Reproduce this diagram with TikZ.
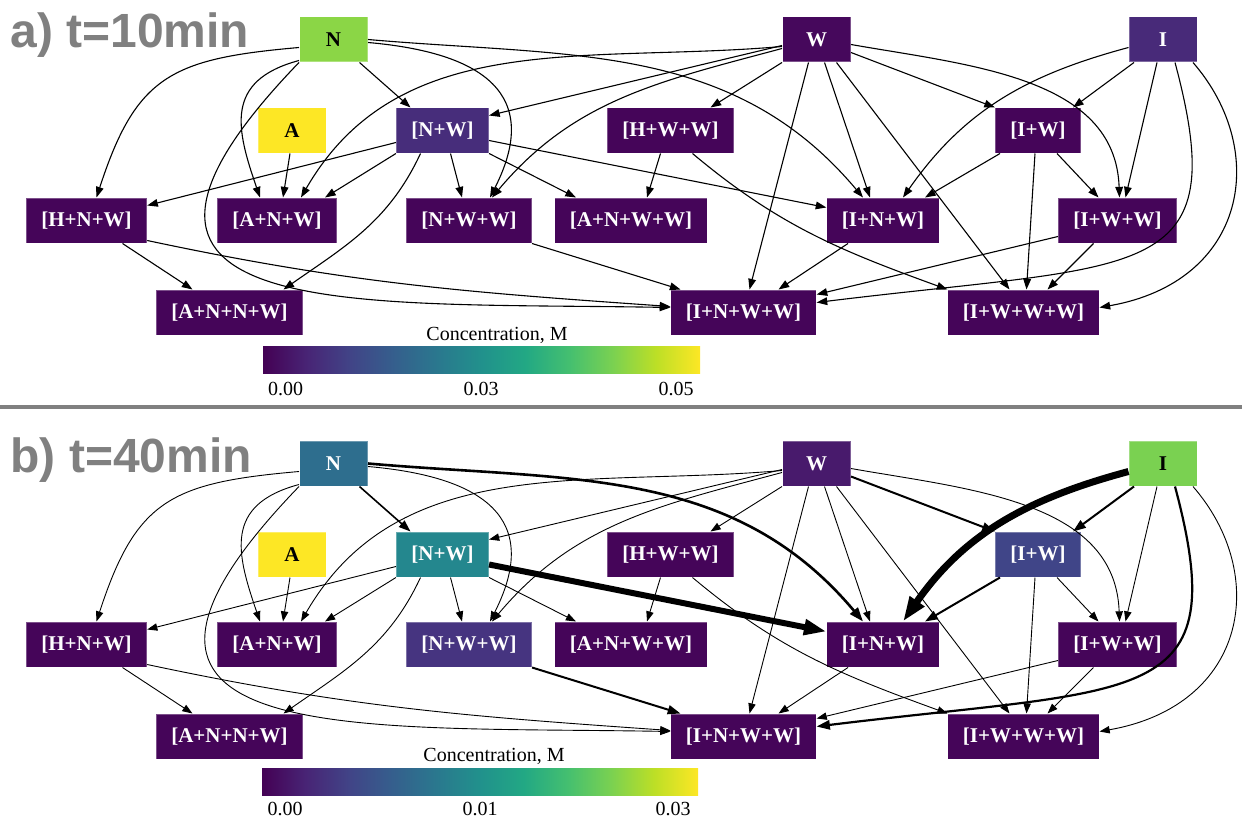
\documentclass[tikz,border=0pt]{standalone}
\usepackage{fontspec}
\setmainfont{Liberation Serif}
\newfontfamily\panelfont{Liberation Sans}
\usetikzlibrary{arrows.meta}

% viridis stops
\definecolor{vir0}{HTML}{440154}
\definecolor{vir1}{HTML}{482475}
\definecolor{vir2}{HTML}{414487}
\definecolor{vir3}{HTML}{355F8D}
\definecolor{vir4}{HTML}{2A788E}
\definecolor{vir5}{HTML}{21918C}
\definecolor{vir6}{HTML}{22A884}
\definecolor{vir7}{HTML}{44BF70}
\definecolor{vir8}{HTML}{7AD151}
\definecolor{vir9}{HTML}{BDDF26}
\definecolor{vir10}{HTML}{FDE725}
\definecolor{deep}{HTML}{450559}
% species at t=10min
\definecolor{Na}{HTML}{8BD646}
\definecolor{Wa}{HTML}{46085C}
\definecolor{Ia}{HTML}{482A79}
\definecolor{NWa}{HTML}{472D7B}
% species at t=40min
\definecolor{Nb}{HTML}{2E6E8E}
\definecolor{Wb}{HTML}{481A6C}
\definecolor{Ib}{HTML}{7AD151}
\definecolor{NWb}{HTML}{24878E}
\definecolor{IWb}{HTML}{404588}
\definecolor{NWWb}{HTML}{463480}

\pgfdeclarehorizontalshading{viridis}{100bp}{color(0bp)=(vir0); color(25bp)=(vir0);
  color(30bp)=(vir1); color(35bp)=(vir2); color(40bp)=(vir3); color(45bp)=(vir4);
  color(50bp)=(vir5); color(55bp)=(vir6); color(60bp)=(vir7); color(65bp)=(vir8);
  color(70bp)=(vir9); color(75bp)=(vir10); color(100bp)=(vir10)}

\tikzset{flux/.style={line width=#1}}

\begin{document}
\begin{tikzpicture}[x=1bp,y=1bp,->,>={Triangle[length=8bp 2.4,width=6bp 1.5]},
                    line width=1.1bp,font=\fontsize{21bp}{24bp}\selectfont\bfseries]
  \tikzstyle{sp}=[rectangle,fill=deep,text=white,minimum height=45bp,minimum width=68bp,
                  inner xsep=15bp,draw=white,draw opacity=0.3,line width=1bp]
  \tikzstyle{dk}=[text=black]
  \tikzstyle{lbl}=[font=\fontsize{20bp}{24bp}\selectfont,anchor=base,inner sep=1bp]
  \tikzstyle{panel}=[font=\panelfont\bfseries\fontsize{48bp}{52bp}\selectfont,
                     text=gray,anchor=base west,inner sep=0pt]

  \useasboundingbox (0,0) rectangle (1242,-818);

  % ---------- a) t=10min ----------
  \node[panel] (tita) at (10,-48) {a) t=10min};

  \node[sp,fill=Na,dk]    (Na)    at (333.5,-39.5)  {N};
  \node[sp,fill=Wa]       (Wa)    at (816.5,-39.5)  {W};
  \node[sp,fill=Ia]       (Ia)    at (1163,-39.5)   {I};
  \node[sp,fill=vir10,dk] (Aa)    at (292,-130.5)   {A};
  \node[sp,fill=NWa]      (NWa)   at (442.5,-130.5) {[N+W]};
  \node[sp]               (HWWa)  at (670.5,-130.5) {[H+W+W]};
  \node[sp]               (IWa)   at (1038,-130.5)  {[I+W]};
  \node[sp]               (HNWa)  at (86.5,-220.5)  {[H+N+W]};
  \node[sp]               (ANWa)  at (277,-220.5)   {[A+N+W]};
  \node[sp]               (NWWa)  at (469,-220.5)   {[N+W+W]};
  \node[sp]               (ANWWa) at (631,-220.5)   {[A+N+W+W]};
  \node[sp]               (INWa)  at (883,-220.5)   {[I+N+W]};
  \node[sp]               (IWWa)  at (1117.5,-220.5) {[I+W+W]};
  \node[sp]               (ANNWa) at (229.5,-312.5) {[A+N+N+W]};
  \node[sp]               (INWWa) at (743.5,-312.5) {[I+N+W+W]};
  \node[sp]               (IWWWa) at (1023.5,-312.5) {[I+W+W+W]};

  \path ([yshift=-8bp]Na.west)  edge[out=185,in=72,looseness=1.3] ([xshift=10bp]HNWa.north)
        ([yshift=2bp]Na.south west) edge[out=195,in=109,out distance=78bp,in distance=72bp] ([xshift=-17bp]ANWa.north)
        ([xshift=26bp]Na.south) edge                              ([xshift=-32bp]NWa.north)
        ([yshift=-3bp]Na.east)  edge[out=-5,in=63,looseness=1.5]  ([xshift=21bp]NWWa.north)
        (Na.east)               edge[out=-5,in=130]               ([xshift=-20bp]INWa.north)
        (Na.south west)         edge[out=226,in=179,out distance=365bp,in distance=320bp] ([yshift=5bp]INWWa.west);
  \path ([yshift=-6bp]Wa.west)  edge                     ([yshift=15bp]NWa.east)
        ([yshift=-7bp]Wa.west)  edge[out=185,in=60]      ([xshift=24bp]ANWa.north)
        ([yshift=-9bp]Wa.west)  edge[out=195,in=50]      ([xshift=23bp]NWWa.north)
        (Wa.south west)         edge                     ([xshift=40bp]HWWa.north)
        ([xshift=8bp]Wa.south)  edge                     ([xshift=-13bp]INWa.north)
        ([xshift=-8bp]Wa.south) edge                     ([xshift=6bp]INWWa.north)
        ([xshift=20bp]Wa.south) edge                     ([xshift=-14bp]IWWWa.north)
        ([yshift=-13bp]Wa.east) edge                     (IWa.north west)
        ([yshift=-5bp]Wa.east)  edge[out=-10,in=92]      ([xshift=2bp]IWWa.north);
  \path ([xshift=-29bp]Ia.south) edge                    ([xshift=35bp]IWa.north)
        ([yshift=-8bp]Ia.west)   edge[out=195,in=55]     ([xshift=20bp]INWa.north)
        ([xshift=-6bp]Ia.south)  edge                    ([xshift=8bp]IWWa.north)
        ([xshift=12bp]Ia.south)  edge[out=-75,in=7,out distance=230bp,in distance=330bp] ([yshift=10bp]INWWa.east)
        ([xshift=30bp]Ia.south)  edge[out=-49,in=10,out distance=117bp,in distance=150bp] ([yshift=5bp]IWWWa.east);
  \path ([xshift=-2bp]Aa.south)  edge                    ([xshift=6bp]ANWa.north);
  \path ([yshift=-12bp]NWa.west) edge                    ([yshift=15bp]HNWa.east)
        (NWa.south west)          edge                   ([xshift=48bp]ANWa.north)
        ([xshift=-22bp]NWa.south) edge[out=245,in=35]    ([xshift=54bp]ANNWa.north)
        ([xshift=8bp]NWa.south)   edge                   ([xshift=-7bp]NWWa.north)
        (NWa.south east)          edge                   ([xshift=-55bp]ANWWa.north)
        ([yshift=-10bp]NWa.east)  edge                   ([yshift=13bp]INWa.west);
  \path ([xshift=-10bp]HWWa.south) edge                  ([xshift=16bp]ANWWa.north)
        ([xshift=22bp]HWWa.south)  edge[out=-40,in=160]  (IWWWa.north west);
  \path ([xshift=-38bp]IWa.south) edge                   ([xshift=42bp]INWa.north)
        ([xshift=19bp]IWa.south)  edge                   ([xshift=-19bp]IWWa.north)
        ([xshift=-3bp]IWa.south)  edge                   ([xshift=3bp]IWWWa.north);
  \path ([xshift=36bp]HNWa.south) edge                   ([xshift=-37bp]ANNWa.north)
        ([yshift=-20bp]HNWa.east)  edge[out=-12,in=176]  ([yshift=6bp]INWWa.west);
  \path (NWWa.south east)          edge                  ([xshift=-63bp]INWWa.north);
  \path ([xshift=-35bp]INWa.south) edge                  ([xshift=35bp]INWWa.north);
  \path ([yshift=-16bp]IWWa.west)  edge                  ([yshift=18bp]INWWa.east)
        ([xshift=-24bp]IWWa.south) edge                  ([xshift=24bp]IWWWa.north);

  % colour scale
  \shade[shading=viridis] (263,-346) rectangle (700,-373);
  \node[lbl] (cbta) at (497,-340) {Concentration, M};
  \node[lbl] (ta0) at (285.5,-395) {0.00};
  \node[lbl] (ta1) at (481,-395)   {0.03};
  \node[lbl] (ta2) at (676,-395)   {0.05};

  \draw[-,line width=4bp,gray] (0,-406.5) -- (1242,-406.5);

  % ---------- b) t=40min ----------
  \begin{scope}[yshift=-424bp,line width=0.9bp]
  \node[panel] (titb) at (10,-48) {b) t=40min};

  \node[sp,fill=Nb]       (Nb)    at (333.5,-39.5)  {N};
  \node[sp,fill=Wb]       (Wb)    at (816.5,-39.5)  {W};
  \node[sp,fill=Ib,dk]    (Ib)    at (1163,-39.5)   {I};
  \node[sp,fill=vir10,dk] (Ab)    at (292,-130.5)   {A};
  \node[sp,fill=NWb]      (NWb)   at (442.5,-130.5) {[N+W]};
  \node[sp]               (HWWb)  at (670.5,-130.5) {[H+W+W]};
  \node[sp,fill=IWb]      (IWb)   at (1038,-130.5)  {[I+W]};
  \node[sp]               (HNWb)  at (86.5,-220.5)  {[H+N+W]};
  \node[sp]               (ANWb)  at (277,-220.5)   {[A+N+W]};
  \node[sp,fill=NWWb]     (NWWb)  at (469,-220.5)   {[N+W+W]};
  \node[sp]               (ANWWb) at (631,-220.5)   {[A+N+W+W]};
  \node[sp]               (INWb)  at (883,-220.5)   {[I+N+W]};
  \node[sp]               (IWWb)  at (1117.5,-220.5) {[I+W+W]};
  \node[sp]               (ANNWb) at (229.5,-312.5) {[A+N+N+W]};
  \node[sp]               (INWWb) at (743.5,-312.5) {[I+N+W+W]};
  \node[sp]               (IWWWb) at (1023.5,-312.5) {[I+W+W+W]};

  \path ([yshift=-8bp]Nb.west)  edge[out=185,in=72,looseness=1.3] ([xshift=10bp]HNWb.north)
        ([yshift=2bp]Nb.south west) edge[out=195,in=109,out distance=78bp,in distance=72bp] ([xshift=-17bp]ANWb.north)
        ([xshift=26bp]Nb.south) edge[flux=1.6bp]                  ([xshift=-32bp]NWb.north)
        ([yshift=-3bp]Nb.east)  edge[out=-5,in=63,looseness=1.5]  ([xshift=21bp]NWWb.north)
        (Nb.east)               edge[out=-5,in=130,flux=2.6bp]    ([xshift=-20bp]INWb.north)
        (Nb.south west)         edge[out=226,in=179,out distance=365bp,in distance=320bp] ([yshift=5bp]INWWb.west);
  \path ([yshift=-6bp]Wb.west)  edge                     ([yshift=15bp]NWb.east)
        ([yshift=-7bp]Wb.west)  edge[out=185,in=60]      ([xshift=24bp]ANWb.north)
        ([yshift=-9bp]Wb.west)  edge[out=195,in=50]      ([xshift=23bp]NWWb.north)
        (Wb.south west)         edge                     ([xshift=40bp]HWWb.north)
        ([xshift=8bp]Wb.south)  edge                     ([xshift=-13bp]INWb.north)
        ([xshift=-8bp]Wb.south) edge                     ([xshift=6bp]INWWb.north)
        ([xshift=20bp]Wb.south) edge                     ([xshift=-14bp]IWWWb.north)
        ([yshift=-13bp]Wb.east) edge[flux=2bp]           (IWb.north west)
        ([yshift=-5bp]Wb.east)  edge[out=-10,in=92]      ([xshift=2bp]IWWb.north);
  \path ([xshift=-29bp]Ib.south) edge[flux=2bp]          ([xshift=35bp]IWb.north)
        ([yshift=-8bp]Ib.west)   edge[out=195,in=55,flux=7bp] ([xshift=20bp]INWb.north)
        ([xshift=-6bp]Ib.south)  edge                    ([xshift=8bp]IWWb.north)
        ([xshift=12bp]Ib.south)  edge[out=-75,in=7,out distance=230bp,in distance=330bp,flux=2.2bp] ([yshift=10bp]INWWb.east)
        ([xshift=30bp]Ib.south)  edge[out=-49,in=10,out distance=117bp,in distance=150bp] ([yshift=5bp]IWWWb.east);
  \path ([xshift=-2bp]Ab.south)  edge                    ([xshift=6bp]ANWb.north);
  \path ([yshift=-12bp]NWb.west) edge                    ([yshift=15bp]HNWb.east)
        (NWb.south west)          edge                   ([xshift=48bp]ANWb.north)
        ([xshift=-22bp]NWb.south) edge[out=245,in=35]    ([xshift=54bp]ANNWb.north)
        ([xshift=8bp]NWb.south)   edge                   ([xshift=-7bp]NWWb.north)
        (NWb.south east)          edge                   ([xshift=-55bp]ANWWb.north)
        ([yshift=-10bp]NWb.east)  edge[flux=6bp]         ([yshift=13bp]INWb.west);
  \path ([xshift=-10bp]HWWb.south) edge                  ([xshift=16bp]ANWWb.north)
        ([xshift=22bp]HWWb.south)  edge[out=-40,in=160]  (IWWWb.north west);
  \path ([xshift=-38bp]IWb.south) edge[flux=2bp]         ([xshift=42bp]INWb.north)
        ([xshift=19bp]IWb.south)  edge                   ([xshift=-19bp]IWWb.north)
        ([xshift=-3bp]IWb.south)  edge                   ([xshift=3bp]IWWWb.north);
  \path ([xshift=36bp]HNWb.south) edge                   ([xshift=-37bp]ANNWb.north)
        ([yshift=-20bp]HNWb.east)  edge[out=-12,in=176]  ([yshift=6bp]INWWb.west);
  \path (NWWb.south east)          edge[flux=2bp]        ([xshift=-63bp]INWWb.north);
  \path ([xshift=-35bp]INWb.south) edge                  ([xshift=35bp]INWWb.north);
  \path ([yshift=-16bp]IWWb.west)  edge                  ([yshift=18bp]INWWb.east)
        ([xshift=-24bp]IWWb.south) edge                  ([xshift=24bp]IWWWb.north);

  % colour scale
  \shade[shading=viridis] (262,-344) rectangle (698,-371);
  \node[lbl] (cbtb) at (494,-337) {Concentration, M};
  \node[lbl] (tb0) at (285,-391) {0.00};
  \node[lbl] (tb1) at (480,-391) {0.01};
  \node[lbl] (tb2) at (673,-391) {0.03};
  \end{scope}
\end{tikzpicture}
\end{document}
